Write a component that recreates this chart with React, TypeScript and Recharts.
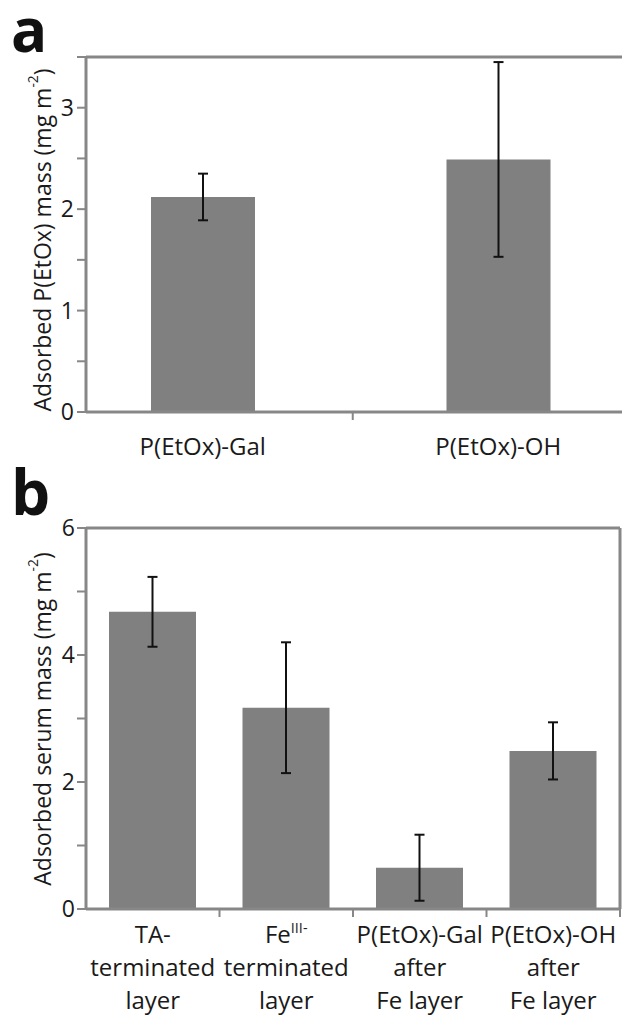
import React from 'react';
import { BarChart, Bar, XAxis, YAxis, ErrorBar, ReferenceLine, CartesianGrid } from 'recharts';

// panel a: adsorbed polymer mass
const polymerNames = ['P(EtOx)-Gal', 'P(EtOx)-OH'];
const polymerMass = [2.12, 2.49];
const polymerErr = [0.23, 0.96];
const polymerTicks = [0, 0.5, 1, 1.5, 2, 2.5, 3, 3.5];

// panel b: adsorbed serum mass
const serumNames = [
    'TA-\nterminated\nlayer',
    'Fe^{III-}\nterminated\nlayer',
    'P(EtOx)-Gal\nafter\nFe layer',
    'P(EtOx)-OH\nafter\nFe layer',
];
const serumMass = [4.68, 3.17, 0.65, 2.49];
const serumErr = [0.55, 1.03, 0.52, 0.45];
const serumTicks = [0, 1, 2, 3, 4, 5, 6];

const AXIS = '#878787';
const BAR = '#808080';
const INK = '#1a1a1a';
const FONT = '"Open Sans", "Noto Sans", sans-serif';
const LABEL_FS = 24;

const polymerData = polymerNames.map((name, i) => ({ name, mass: polymerMass[i], err: polymerErr[i] }));
const serumData = serumNames.map((name, i) => ({ name, mass: serumMass[i], err: serumErr[i] }));

// text with ^{...} superscripts
const richText = (s: string, fs: number) => {
    const parts = s.split(/\^\{([^}]*)\}/);
    const shift = fs * 0.42;
    const out: React.ReactNode[] = [];
    let raised = false;
    parts.forEach((p, i) => {
        if (i % 2 === 1) {
            out.push(<tspan key={i} dy={-shift} fontSize={fs * 0.6}>{p}</tspan>);
            raised = true;
        } else if (p) {
            out.push(<tspan key={i} dy={raised ? shift : undefined}>{p}</tspan>);
            raised = false;
        }
    });
    return out;
};

// category label plus a small tick at the category's right boundary
const CategoryTick = (props: any) => {
    const { x, y, payload, index, first, step, half, markUpTo } = props;
    const lines = String(payload.value).split('\n');
    return (
        <g>
            {index < markUpTo && (
                <line x1={x + half} x2={x + half} y1={y} y2={y + 8} stroke={AXIS} strokeWidth={2} />
            )}
            {lines.map((l: string, i: number) => (
                <text key={i} x={x} y={y + first + i * step} textAnchor="middle" fontSize={LABEL_FS} fontFamily={FONT} fill={INK}>
                    {richText(l, LABEL_FS)}
                </text>
            ))}
        </g>
    );
};

const YTitle = ({ text, cy }: { text: string; cy: number }) => (
    <text
        x={42}
        y={cy}
        transform={`rotate(-90 42 ${cy})`}
        textAnchor="middle"
        dominantBaseline="central"
        fontSize={23}
        fontFamily={FONT}
        fill={INK}
    >
        {richText(text, 23)}
    </text>
);

const App: React.FC = () => {
    return (
        <div style={{ position: 'absolute', left: 0, top: 0, width: 622, height: 1017, overflow: 'hidden', background: '#fff' }}>
            <svg width={622} height={1017} style={{ position: 'absolute', left: 0, top: 0 }}>
                <text x={11} y={52} fontSize={60} fontWeight={700} fontFamily={FONT} fill="#111">a</text>
                <text x={11} y={515} fontSize={62} fontWeight={700} fontFamily={FONT} fill="#111">b</text>
            </svg>

            {/* panel a */}
            <div style={{ position: 'absolute', left: 0, top: 0 }}>
                <BarChart width={640} height={470} data={polymerData} margin={{ top: 57, right: 14, bottom: 0, left: 0 }}>
                    <XAxis
                        dataKey="name"
                        height={58}
                        tickLine={false}
                        tickSize={0}
                        tickMargin={0}
                        axisLine={{ stroke: AXIS, strokeWidth: 3 }}
                        padding={{ left: -31, right: -20 }}
                        interval={0}
                        tick={<CategoryTick first={43} step={33} half={150} markUpTo={1} />}
                    />
                    <YAxis
                        width={86}
                        domain={[0, 3.5]}
                        ticks={polymerTicks}
                        interval={0}
                        allowDataOverflow
                        axisLine={{ stroke: AXIS, strokeWidth: 3 }}
                        tickLine={{ stroke: AXIS, strokeWidth: 2 }}
                        tickSize={9}
                        tickMargin={3}
                        tick={{ fontSize: 23, fontFamily: FONT, fill: INK }}
                        tickFormatter={(v: number) => (v % 1 === 0 ? String(v) : '')}
                        label={{ content: () => <YTitle text="Adsorbed P(EtOx) mass (mg m^{-2})" cy={240} /> }}
                    />
                    <ReferenceLine y={3.5} stroke={AXIS} strokeWidth={3} />
                    <Bar dataKey="mass" fill={BAR} barSize={104} isAnimationActive={false}>
                        <ErrorBar dataKey="err" width={5} stroke="#111" strokeWidth={2} direction="y" />
                    </Bar>
                </BarChart>
            </div>

            {/* panel b */}
            <div style={{ position: 'absolute', left: 0, top: 460 }}>
                <BarChart width={622} height={557} data={serumData} margin={{ top: 68, right: 2, bottom: 0, left: 0 }}>
                    {/* right frame edge */}
                    <CartesianGrid
                        horizontal={false}
                        stroke={AXIS}
                        strokeWidth={3}
                        verticalCoordinatesGenerator={({ offset }: any) => [offset.left + offset.width]}
                    />
                    <XAxis
                        dataKey="name"
                        height={108}
                        tickLine={false}
                        tickSize={0}
                        tickMargin={0}
                        axisLine={{ stroke: AXIS, strokeWidth: 3 }}
                        interval={0}
                        tick={<CategoryTick first={34} step={33} half={66.75} markUpTo={4} />}
                    />
                    <YAxis
                        width={86}
                        domain={[0, 6]}
                        ticks={serumTicks}
                        interval={0}
                        allowDataOverflow
                        axisLine={{ stroke: AXIS, strokeWidth: 3 }}
                        tickLine={{ stroke: AXIS, strokeWidth: 2 }}
                        tickSize={9}
                        tickMargin={2}
                        tick={{ fontSize: 23, fontFamily: FONT, fill: INK }}
                        tickFormatter={(v: number) => (v % 2 === 0 ? String(v) : '')}
                        label={{ content: () => <YTitle text="Adsorbed serum mass (mg m^{-2})" cy={259} /> }}
                    />
                    <ReferenceLine y={6} stroke={AXIS} strokeWidth={3} />
                    <Bar dataKey="mass" fill={BAR} barSize={87} isAnimationActive={false}>
                        <ErrorBar dataKey="err" width={5} stroke="#111" strokeWidth={2} direction="y" />
                    </Bar>
                </BarChart>
            </div>
        </div>
    );
};

export default App;
